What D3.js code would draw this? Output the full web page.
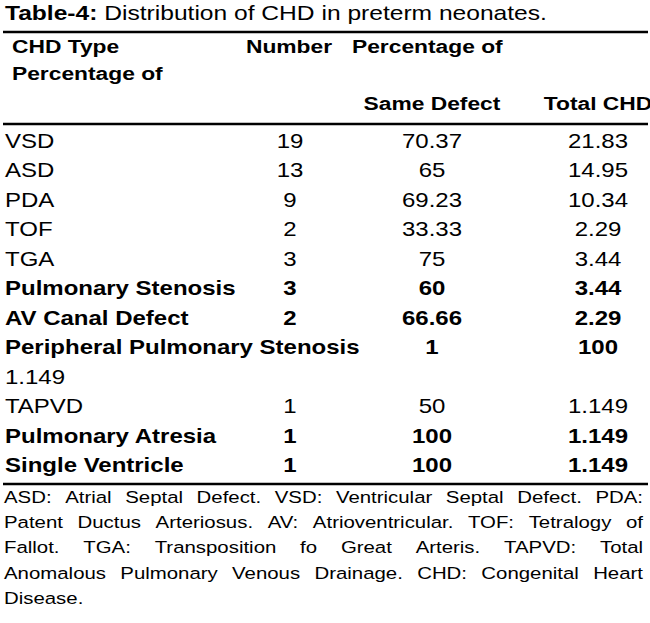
<!DOCTYPE html><html><head><meta charset="utf-8"><script src="https://cdn.jsdelivr.net/npm/d3@7"></script>
<style>body{margin:0;background:#fff}text{font-family:"Liberation Sans",Arial,sans-serif;fill:#000}</style></head><body>
<svg id="c" width="650" height="623"></svg>
<script>
const labels=["VSD","ASD","PDA","TOF","TGA","Pulmonary Stenosis","AV Canal Defect","Peripheral Pulmonary Stenosis","1.149","TAPVD","Pulmonary Atresia","Single Ventricle"];
const numbers=["19","13","9","2","3","3","2","","","1","1","1"];
const sameDefect=["70.37","65","69.23","33.33","75","60","66.66","1","","50","100","100"];
const totalCHD=["21.83","14.95","10.34","2.29","3.44","3.44","2.29","100","","1.149","1.149","1.149"];
const boldRows=[5,6,7,10,11];
const footLines=["ASD: Atrial Septal Defect. VSD: Ventricular Septal Defect. PDA:","Patent Ductus Arteriosus. AV: Atrioventricular. TOF: Tetralogy of","Fallot. TGA: Transposition fo Great Arteris. TAPVD: Total","Anomalous Pulmonary Venous Drainage. CHD: Congenital Heart","Disease."];
const SX=1.2;
const svg=d3.select("#c");
const txt=(x,yy,s,o={})=>svg.append("text").attr("transform",`translate(${x},${yy}) scale(${SX},1)`)
  .attr("font-size",o.size||20).attr("font-weight",o.bold?"bold":"normal").attr("text-anchor",o.anchor||"start").text(s);
const y=d3.scaleBand().domain(d3.range(labels.length)).range([126,480]);
const cols=d3.scaleOrdinal().domain(["num","same","tot"]).range([290,432,598]);
const t=svg.append("text").attr("transform",`translate(5,20) scale(${SX},1)`).attr("font-size",20.5);
t.append("tspan").attr("font-weight","bold").text("Table-4:");
t.append("tspan").text(" Distribution of CHD in preterm neonates.");
const line=(yy,w)=>svg.append("line").attr("x1",3).attr("x2",648).attr("y1",yy).attr("y2",yy).attr("stroke","#000").attr("stroke-width",w);
line(32,2.5);line(124,2.5);line(484,2.5);
txt(12,53,"CHD Type",{bold:1,size:19});txt(12,80,"Percentage of",{bold:1,size:19});
txt(246,53,"Number",{bold:1,size:19});txt(352,53,"Percentage of",{bold:1,size:19});
txt(cols("same"),110,"Same Defect",{bold:1,size:19,anchor:"middle"});txt(cols("tot"),110,"Total CHD",{bold:1,size:19,anchor:"middle"});
labels.forEach((l,i)=>{
 const yy=y(i)+y.bandwidth()/2+7, b=boldRows.includes(i);
 txt(5,yy,l,{bold:b});
 [["num",numbers],["same",sameDefect],["tot",totalCHD]].forEach(([k,a])=>txt(cols(k),yy,a[i],{bold:b,anchor:"middle"}));
});
footLines.forEach((ln,i)=>{
 const yy=503+i*25.2;
 if(i===footLines.length-1){txt(4,yy,ln,{size:17});return;}
 const ws=ln.split(" ").map(w=>{const e=txt(0,yy,w,{size:17});return [e,e.node().getComputedTextLength()*SX];});
 const gap=(643-4-d3.sum(ws,d=>d[1]))/(ws.length-1);
 let x=4;ws.forEach(([e,w])=>{e.attr("transform",`translate(${x},${yy}) scale(${SX},1)`);x+=w+gap;});
});
</script></body></html>
